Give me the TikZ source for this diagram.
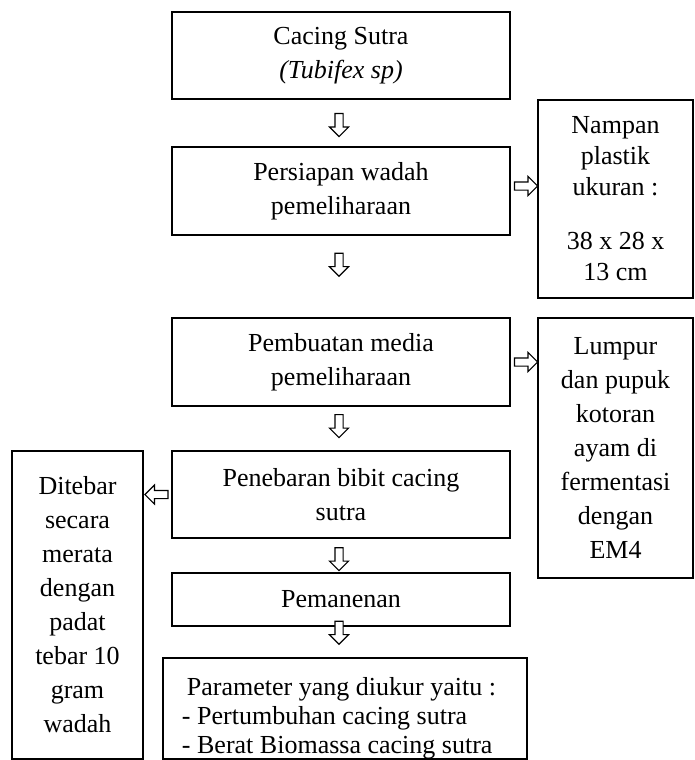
\documentclass[tikz,border=0pt]{standalone}
\usepackage{fontspec}
\setmainfont{Liberation Serif}
\usetikzlibrary{shapes.arrows,calc}
\begin{document}
\begin{tikzpicture}[x=1pt,y=-1pt,
  box/.style={draw, line width=1.4pt, align=center, inner sep=0pt,
    font=\fontsize{26}{34}\selectfont},
  frame/.style={draw, line width=1.4pt, inner sep=0pt},
  txt/.style={align=left, inner sep=0pt, font=\fontsize{26}{29}\selectfont},
  barrow/.style={single arrow, draw, fill=white, line width=1.1pt,
    minimum width=18pt, minimum height=23pt, inner sep=3.5pt,
    single arrow head extend=5.5pt, single arrow tip angle=90},
  down/.style={barrow, shape border rotate=270},
  right/.style={barrow, shape border rotate=0},
  left/.style={barrow, shape border rotate=180}]
\useasboundingbox (0,0) rectangle (695,760);

\node[box, minimum width=338pt, minimum height=87pt] (b1) at (341,55.5)
  {Cacing Sutra\\\textit{(Tubifex sp)}};
\node[box, minimum width=338pt, minimum height=88pt] (b2) at (341,191)
  {Persiapan wadah\\pemeliharaan};
\node[box, minimum width=338pt, minimum height=88pt] (b3) at (341,362)
  {Pembuatan media\\pemeliharaan};
\node[box, minimum width=338pt, minimum height=87pt] (b4) at (341,494.5)
  {Penebaran bibit cacing\\sutra};
\node[box, minimum width=338pt, minimum height=53pt] (b5) at (341,599.5)
  {Pemanenan};
\node[frame, minimum width=364pt, minimum height=101pt] (b6) at (345,708.5) {};
\node[txt] (b6t) at (339,718)
  {\hspace{5pt}Parameter yang diukur yaitu :\\- Pertumbuhan cacing sutra\\- Berat Biomassa cacing sutra};

\node[box, minimum width=155pt, minimum height=198pt,
  font=\fontsize{26}{31}\selectfont] (r1) at (615.5,199)
  {Nampan\\plastik\\ukuran :\\[23pt]38 x 28 x\\13 cm};
\node[box, minimum width=155pt, minimum height=260pt] (r2) at (615.5,448)
  {Lumpur\\dan pupuk\\kotoran\\ayam di\\fermentasi\\dengan\\EM4};
\node[box, minimum width=131pt, minimum height=308pt] (l1) at (77.5,605)
  {Ditebar\\secara\\merata\\dengan\\padat\\tebar 10\\gram\\wadah};

\node[down] (a1) at ($(b1.south)!0.5!(b2.north)+(-2,0)$) {};
\node[down] (a2) at ($(b2.south)+(-2,27)$) {};
\node[down] (a3) at ($(b3.south)!0.4!(b4.north)+(-2,0)$) {};
\node[down] (a4) at ($(b4.south)!0.55!(b5.north)+(-2,0)$) {};
\node[down] (a5) at ($(b5.south)+(-2,4)$) {};
\node[right] (ar1) at ($(b2.east)!0.5!(b2.east-|r1.west)+(0,-5)$) {};
\node[right] (ar2) at ($(b3.east)!0.5!(b3.east-|r2.west)$) {};
\node[left] (al) at ($(b4.west)!0.5!(b4.west-|l1.east)+(1,0)$) {};
\end{tikzpicture}
\end{document}
